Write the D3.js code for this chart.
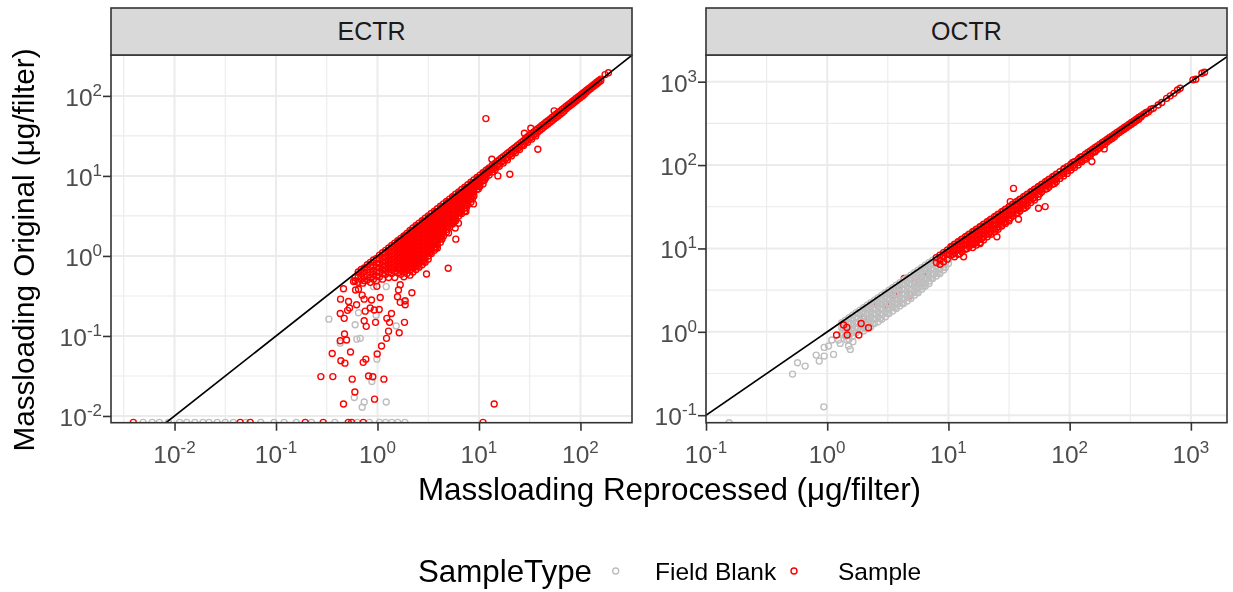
<!DOCTYPE html>
<html>
<head>
<meta charset="utf-8">
<script src="https://cdn.jsdelivr.net/npm/d3@7"></script>
<style>
  html, body { margin: 0; padding: 0; background: #fff; }
  svg { display: block; filter: blur(0.6px); }
  text { font-family: "Liberation Sans", Arial, sans-serif; }
</style>
</head>
<body>
<div id="chart"></div>
<script>
// all values are log10(ug/filter)
// each row is [x, y, y, y...]
const ectrBlank = [
  [-.479,-.79],[-.22,-.86],[-.203,-1.04],[-.17,-1.03],[.184,-.875],[-.367,-1.09],[-.055,-1.57],[-.229,-1.77],
  [-.131,-1.825],[-.151,-1.89],[.086,-1.825],[-.006,-1.29],[-.013,-.74],[-.187,-.71],[.086,-.384],[-.039,-.384],
  [.23,.01],[.214,-.175],[.263,-.57],[-.2,-.32],[-.09,-.28],
  [-2.31,-2.08],[-2.22,-2.08],[-2.15,-2.08],[-2.06,-2.08],[-1.95,-2.08],[-1.88,-2.08],[-1.8,-2.08],[-1.72,-2.08],
  [-1.66,-2.08],[-1.58,-2.08],[-1.5,-2.08],[-1.42,-2.08],[-1.3,-2.08],[-1.15,-2.08],[-1.02,-2.08],[-.92,-2.08],
  [-.8,-2.08],[-.65,-2.08],[-.42,-2.08],[-.2,-2.08],[-.08,-2.08],[.02,-2.08],[.08,-2.08],[.14,-2.08],[.2,-2.08],[.27,-2.08]
];
const ectrSampleSparse = [
  [-.558,-1.508],[-.44,-1.508],[-.249,-1.54],[-.088,-1.5],[-.046,-1.51],[.063,-1.54],[-.335,-1.85],[-.223,-1.7],
  [-.029,-1.79],[-.446,-1.22],[-.266,-1.2],[-.361,-1.31],[-.321,-1.34],[-.141,-1.33],[-.115,-1.29],[-.003,-1.225],
  [.04,-1.125],[.089,-1.03],[.214,-.96],[.109,-.94],[-.367,-1.06],[-.325,-.975],[-.305,-1.05],[-.111,-.88],
  [-.131,-.81],[-.019,-.83],[.092,-.78],[.119,-.83],[.138,-.72],[.266,-.83],[-.328,-.78],[-.367,-.72],
  [-.295,-.68],[-.275,-.65],[-.206,-.61],[-.285,-.57],[-.364,-.54],[-.121,-.69],[-.072,-.65],[-.032,-.675],
  [.017,-.67],[-.059,-.55],[-.131,-.54],[.027,-.52],[-.151,-.49],[-.335,-.41],[-.216,-.425],[-.187,-.417],
  [-.236,-.32],[.197,-.51],[.224,-.58],[.273,-.61],[.273,-.56],[.339,-.46],[.207,-.425],[.224,-.36],
  [-.144,-.34],[-.006,-.38],[.697,-.154],[.483,-.225],[.772,.21],[1.15,-1.85],
  [1.068,1.716],[1.58,1.334],[1.304,1.02],[1.186,1.0],[1.127,1.209],[1.511,1.596],[1.448,1.534],[1.741,1.813],
  [2.276,2.29],[2.243,2.266],[.946,.65],[.871,.554],[.798,.409],[.766,.35],[.7,.288],
  [-2.406,-2.08],[-1.353,-2.08],[-1.254,-2.08],[-.712,-2.08],[-.535,-2.08],[-.288,-2.08],[-.255,-2.08],[-.14,-2.08],[1.04,-2.08]
];
const ectrSampleDense = [
  [-.22,-.27,-.31],[-.19,-.2,-.25,-.33],[-.16,-.17,-.22,-.29],[-.13,-.15,-.2,-.26,-.31],
  [-.1,-.11,-.17,-.24,-.3],[-.07,-.08,-.14,-.2,-.27,-.33],[-.04,-.05,-.12,-.18,-.23,-.29],
  [-.01,-.03,-.09,-.14,-.2,-.25,-.31],[.02,.01,-.04,-.1,-.15,-.2,-.26],
  [.05,.04,-.02,-.07,-.12,-.17,-.22,-.29],[.08,.07,.02,-.03,-.08,-.13,-.18,-.23],
  [.11,.1,.05,0,-.05,-.1,-.15,-.2,-.27],[.14,.13,.08,.03,-.02,-.07,-.12,-.17,-.22],
  [.17,.16,.11,.06,.01,-.04,-.09,-.14,-.19,-.27],[.2,.19,.14,.09,.04,-.01,-.06,-.11,-.16,-.21],
  [.23,.22,.17,.12,.07,.02,-.03,-.08,-.13,-.18,-.23],[.26,.25,.2,.15,.1,.05,0,-.05,-.1,-.15,-.2,-.26],
  [.29,.28,.23,.18,.13,.08,.03,-.02,-.07,-.12,-.17,-.22],[.32,.32,.27,.22,.17,.12,.07,.02,-.03,-.08,-.13,-.18,-.24],
  [.35,.35,.3,.25,.2,.15,.1,.05,0,-.05,-.1,-.15,-.2],[.38,.38,.33,.28,.23,.18,.13,.08,.03,-.02,-.07,-.12,-.17],
  [.41,.41,.36,.31,.26,.21,.16,.11,.06,.01,-.04,-.09,-.14],[.44,.44,.39,.34,.29,.24,.19,.14,.09,.04,-.01,-.06,-.11],
  [.47,.47,.42,.37,.32,.27,.22,.17,.12,.07,.02,-.03,-.08],[.5,.5,.45,.4,.35,.3,.25,.2,.15,.1,.05,0,-.04],
  [.53,.53,.48,.43,.38,.33,.28,.23,.18,.13,.08,.03],[.56,.56,.51,.46,.41,.36,.31,.26,.21,.16,.11,.07],
  [.59,.59,.54,.49,.44,.39,.34,.29,.24,.19,.14,.1],[.62,.62,.57,.52,.47,.42,.37,.32,.27,.22,.17],
  [.65,.65,.6,.55,.5,.45,.4,.35,.3,.25],[.68,.68,.63,.58,.53,.48,.43,.38,.33,.3],
  [.71,.71,.66,.61,.56,.51,.46,.41,.36],[.74,.74,.69,.64,.59,.54,.49,.44,.4],
  [.77,.77,.72,.67,.62,.57,.52,.47,.44],[.8,.8,.75,.7,.65,.6,.55,.5],[.83,.83,.78,.73,.68,.63,.58,.53],
  [.86,.86,.81,.76,.71,.66,.6,.56],[.89,.89,.84,.79,.74,.69,.64],[.92,.92,.87,.82,.77,.72,.67],
  [.95,.95,.9,.85,.8,.75],[.98,.98,.93,.88,.83],[1.01,1.01,.96,.91,.87],[1.04,1.04,.99,.94,.9],
  [1.07,1.07,1.02,.98],[1.1,1.1,1.05,1.01],[1.13,1.13,1.08,1.05],[1.16,1.16,1.11,1.08],[1.2,1.2,1.15,1.12],
  [1.24,1.24,1.19,1.16],[1.28,1.28,1.23,1.2],[1.32,1.32,1.28,1.25],[1.36,1.36,1.32,1.29],[1.4,1.4,1.36,1.33],
  [1.44,1.44,1.4,1.38],[1.48,1.49,1.45,1.42],[1.52,1.53,1.49,1.46],[1.56,1.57,1.53,1.5],[1.6,1.61,1.57],
  [1.64,1.65,1.61],[1.68,1.69,1.65],[1.72,1.73,1.69],[1.76,1.77,1.73],[1.8,1.81,1.77],[1.84,1.85,1.81],
  [1.88,1.89,1.86],[1.92,1.93,1.9],[1.96,1.97,1.94],[2,2.01,1.98],[2.04,2.05,2.02],[2.08,2.09,2.07],
  [2.12,2.13,2.11],[2.16,2.17,2.15],[2.2,2.21,2.19]
];
const ectrSampleBand = [
  [1.09,1.08,1.04],[1.15,1.14,1.1],[1.18,1.18,1.13],[1.22,1.22,1.17],[1.26,1.26,1.21],[1.3,1.3,1.26],[1.34,1.34,1.3],
  [1.38,1.38,1.34],[1.42,1.42,1.38],[1.46,1.47,1.43],[1.5,1.51,1.47],[1.54,1.55,1.51],[1.58,1.59,1.55],[1.62,1.63,1.59],
  [1.66,1.67,1.63],[1.7,1.71,1.67],[1.74,1.75,1.71],[1.78,1.79,1.75],[1.82,1.83,1.79],[1.86,1.87,1.84],[1.9,1.91,1.88],
  [1.94,1.95,1.92],[1.98,1.99,1.96],[2.02,2.03,2.0],[2.06,2.07,2.05],[2.1,2.11,2.09],[2.14,2.15,2.13],[2.18,2.19,2.17]
];
const ectrSampleFill = [
  [.215,.18,.12,.07,.02,-.03,-.09,-.14],[.275,.25,.2,.15,.1,.05,0,-.05,-.11,-.16],
  [.335,.31,.26,.21,.16,.11,.06,.01,-.04,-.09,-.14],[.395,.37,.32,.27,.22,.17,.12,.07,.02,-.03,-.08,-.13],
  [.455,.43,.38,.33,.28,.23,.18,.13,.08,.03,-.02,-.07],[.515,.49,.44,.39,.34,.29,.24,.19,.14,.09,.04],
  [.575,.55,.5,.45,.4,.35,.3,.25,.2,.15,.1],[.635,.61,.56,.51,.46,.41,.36,.31,.26,.21],
  [.695,.67,.62,.57,.52,.47,.42,.37],[.755,.73,.68,.63,.58,.53,.48,.43],[.815,.79,.74,.69,.64,.59,.54],
  [.875,.85,.8,.75,.7,.65,.6],[.935,.91,.86,.81,.76,.71],[.995,.97,.92,.87,.84],[1.055,1.03,.98,.95]
];

const octrSampleUnder = [
  [.635,.641],[.588,.501],[.41,.36],[.3,.16],[.685,.44],[.48,.33],[.55,.44],[.72,.6],[.78,.66],[.83,.7]
];
const octrBlank = [
  [-.809,-1.09],[-.028,-.9],[-.286,-.507],[-.245,-.371],[-.182,-.411],[-.091,-.279],[-.066,-.351],[-.025,-.291],
  [-.025,-.187],[.052,-.271],[.011,-.171],[.038,-.099],[.107,-.139],[.176,-.171],[.19,-.211],[.212,-.119],[.162,-.099],[.093,-.099],
  [.12,.11,.05,-.02],[.15,.14,.08,.02,-.05],[.18,.17,.11,.05,-.02,-.09],[.21,.2,.14,.08,.02,-.05],
  [.24,.23,.17,.11,.05,-.01],[.27,.26,.2,.14,.08,.02],[.3,.29,.24,.18,.12,.06,.01],[.33,.32,.27,.21,.15,.09,.04],
  [.36,.35,.3,.24,.18,.12,.06],[.39,.38,.33,.27,.21,.15,.1],[.42,.41,.36,.3,.24,.18,.12],[.45,.44,.39,.33,.27,.21,.15],
  [.48,.47,.42,.36,.3,.24,.18],[.51,.5,.45,.39,.33,.27,.22],[.54,.53,.48,.42,.36,.3,.25],[.57,.56,.51,.45,.39,.33,.28],
  [.6,.59,.54,.48,.42,.36,.31],[.63,.62,.57,.51,.45,.39,.34],[.66,.65,.6,.54,.48,.42,.37],[.69,.68,.63,.57,.51,.45,.4],
  [.72,.71,.66,.6,.54,.49,.44],[.75,.74,.69,.63,.57,.52,.47],[.78,.77,.72,.66,.6,.55,.51],[.81,.8,.75,.69,.63,.58,.55],
  [.84,.83,.78,.72,.66,.61,.58],[.87,.86,.81,.75,.69,.64],[.9,.89,.84,.78,.72,.67],[.93,.92,.87,.81,.75,.7],
  [.96,.95,.9,.84,.78,.74],[1,.99,.93,.87,.82],
  [.135,.1,.04,-.03],[.195,.16,.1,.04,-.02],[.255,.22,.16,.1,.04],[.315,.28,.22,.16,.1,.04],[.375,.34,.28,.22,.16,.1],
  [.435,.4,.34,.28,.22,.16],[.495,.46,.4,.34,.28,.22],[.555,.52,.46,.4,.34,.29],[.615,.58,.52,.46,.4,.34],
  [.675,.64,.58,.52,.46,.41],[.735,.7,.64,.58,.52,.47],[.795,.76,.7,.64,.58,.54],[.855,.82,.76,.7,.64],
  [.915,.88,.82,.76,.7],[.975,.94,.88,.82,.77]
];
const octrSample = [
  [.077,-.039],[.165,-.039],[.261,-.039],[.341,.049],[.135,.081],[.162,.053],[.28,.1],
  [1.537,1.72],[1.51,1.562],[1.743,1.482],[1.798,1.502],[1.578,1.35],[1.4,1.14],[1.262,1.06],[1.125,.9],
  [2.183,2.042],[2.285,2.194],
  [.9,.89,.83],[.93,.92,.86,.81],[.96,.95,.9,.84],[.99,.98,.93,.87],[1.02,1.02,.97,.92],[1.05,1.05,1,.95,.9],
  [1.08,1.08,1.03,.98,.93],[1.11,1.11,1.06,1.01,.96],[1.14,1.14,1.09,1.04,.99],[1.17,1.17,1.12,1.07,1.02],
  [1.2,1.2,1.15,1.1,1.05,1.01],[1.23,1.23,1.18,1.13,1.08,1.04],[1.26,1.26,1.21,1.16,1.11,1.07],[1.29,1.29,1.24,1.19,1.14,1.1],
  [1.32,1.32,1.27,1.22,1.17,1.14],[1.35,1.35,1.3,1.25,1.2,1.17],[1.38,1.38,1.33,1.28,1.23,1.2],[1.41,1.41,1.36,1.31,1.26,1.23],
  [1.44,1.44,1.39,1.34,1.29,1.27],[1.47,1.47,1.42,1.37,1.32,1.3],[1.5,1.5,1.45,1.4,1.35,1.33],[1.53,1.53,1.48,1.43,1.39],
  [1.56,1.56,1.51,1.46,1.42],[1.59,1.59,1.54,1.49,1.45],[1.62,1.62,1.57,1.52,1.48],[1.65,1.65,1.6,1.55,1.51],
  [1.68,1.68,1.63,1.58,1.55],[1.71,1.71,1.66,1.61,1.58],[1.74,1.74,1.69,1.65,1.62],[1.77,1.77,1.72,1.68],[1.8,1.8,1.75,1.71],
  [1.83,1.83,1.78,1.74],[1.86,1.86,1.81,1.77],[1.89,1.89,1.84,1.8],[1.92,1.92,1.87,1.84],[1.95,1.95,1.9,1.87],[1.98,1.98,1.93,1.9],
  [2.01,2.01,1.97,1.94],[2.04,2.04,2,1.97],[2.07,2.07,2.03,2],[2.1,2.1,2.06,2.04],[2.13,2.13,2.09,2.07],[2.17,2.17,2.13,2.11],
  [2.21,2.21,2.17,2.16],[2.25,2.25,2.21],[2.29,2.29,2.25],[2.33,2.33,2.3],[2.37,2.37,2.34],[2.41,2.41,2.39],[2.45,2.45,2.43],
  [2.49,2.49,2.47],[2.53,2.53,2.51],[2.57,2.57,2.55],[2.61,2.61],[2.65,2.64],[2.69,2.68],[2.73,2.72],[2.76,2.75],[2.8,2.8],
  [2.83,2.83],[2.86,2.86],[2.89,2.9],[2.912,2.922],[3.017,3.022],[3.04,3.03],[3.091,3.102],[3.113,3.114]
];
const octrSampleBand = [
  [1.955,1.96,1.92],[2.025,2.03,1.99],[2.085,2.09,2.05],[2.15,2.15,2.11],[2.19,2.19,2.15],[2.23,2.23,2.19],[2.27,2.27,2.24],
  [2.31,2.31,2.28],[2.35,2.35,2.32],[2.39,2.39,2.37],[2.43,2.43,2.41],[2.47,2.47,2.45],[2.51,2.51,2.49],[2.55,2.55,2.53],
  [2.59,2.59,2.58],[2.63,2.63,2.62],[2.67,2.67],
  [1.035,1.03,.98,.93],[1.095,1.09,1.04,.99,.94],[1.155,1.15,1.1,1.05,1],[1.215,1.21,1.16,1.11,1.06],[1.275,1.27,1.22,1.17,1.12],
  [1.335,1.33,1.28,1.23,1.18],[1.395,1.39,1.34,1.29,1.24],[1.455,1.45,1.4,1.35,1.31],[1.515,1.51,1.46,1.41,1.37],
  [1.575,1.57,1.52,1.47,1.43],[1.635,1.63,1.58,1.53,1.49],[1.695,1.69,1.64,1.6],[1.755,1.75,1.7,1.66],[1.815,1.81,1.76,1.72],
  [1.875,1.87,1.82,1.78]
];

const ectrXTicks = [-2, -1, 0, 1, 2];
const ectrYTicks = [-2, -1, 0, 1, 2];
const ectrXMinor = [-2.5, -1.5, -0.5, 0.5, 1.5];
const ectrYMinor = [-1.5, -0.5, 0.5, 1.5];
const octrXTicks = [-1, 0, 1, 2, 3];
const octrYTicks = [-1, 0, 1, 2, 3];
const octrXMinor = [-0.5, 0.5, 1.5, 2.5];
const octrYMinor = [-0.5, 0.5, 1.5, 2.5];
const legendItems = ["Field Blank", "Sample"];

const blankColor = "#bebebe";
const sampleColor = "#ff0000";
const panelTop = 55, panelBottom = 422.7, stripTop = 8;

const svg = d3.select("#chart").append("svg")
  .attr("width", 1233)
  .attr("height", 592);

function rowsToPoints(rows) {
  return rows.flatMap(r => r.slice(1).map(y => [r[0], y]));
}

function drawPanel(p) {
  const x = d3.scaleLog().domain(p.xDomain.map(d => 10 ** d)).range([p.left, p.right]);
  const y = d3.scaleLog().domain(p.yDomain.map(d => 10 ** d)).range([panelBottom, panelTop]);
  const g = svg.append("g");

  // 网格 grid, minor first
  g.selectAll(".minor-x").data(p.xMinor).join("line")
    .attr("x1", d => x(10 ** d)).attr("x2", d => x(10 ** d))
    .attr("y1", panelTop).attr("y2", panelBottom)
    .attr("stroke", "#ebebeb").attr("stroke-width", 1.1);
  g.selectAll(".minor-y").data(p.yMinor).join("line")
    .attr("y1", d => y(10 ** d)).attr("y2", d => y(10 ** d))
    .attr("x1", p.left).attr("x2", p.right)
    .attr("stroke", "#ebebeb").attr("stroke-width", 1.1);
  g.selectAll(".major-x").data(p.xTicks).join("line")
    .attr("x1", d => x(10 ** d)).attr("x2", d => x(10 ** d))
    .attr("y1", panelTop).attr("y2", panelBottom)
    .attr("stroke", "#ebebeb").attr("stroke-width", 2);
  g.selectAll(".major-y").data(p.yTicks).join("line")
    .attr("y1", d => y(10 ** d)).attr("y2", d => y(10 ** d))
    .attr("x1", p.left).attr("x2", p.right)
    .attr("stroke", "#ebebeb").attr("stroke-width", 2);

  const clipId = "clip-" + p.name;
  svg.append("clipPath").attr("id", clipId).append("rect")
    .attr("x", p.left).attr("y", panelTop)
    .attr("width", p.right - p.left).attr("height", panelBottom - panelTop);
  const plot = g.append("g").attr("clip-path", `url(#${clipId})`);

  p.layers.forEach(layer => {
    plot.append("g").selectAll("circle")
      .data(rowsToPoints(layer.rows))
      .join("circle")
      .attr("cx", d => x(10 ** d[0]))
      .attr("cy", d => y(10 ** d[1]))
      .attr("r", 3)
      .attr("fill", "none")
      .attr("stroke", layer.color)
      .attr("stroke-width", 1.4);
  });

  // y = x 参考线
  const lo = Math.min(p.xDomain[0], p.yDomain[0]), hi = Math.max(p.xDomain[1], p.yDomain[1]);
  plot.append("line")
    .attr("x1", x(10 ** lo)).attr("y1", y(10 ** lo))
    .attr("x2", x(10 ** hi)).attr("y2", y(10 ** hi))
    .attr("stroke", "#000").attr("stroke-width", 1.7);

  // panel border and strip
  g.append("rect")
    .attr("x", p.left).attr("y", panelTop)
    .attr("width", p.right - p.left).attr("height", panelBottom - panelTop)
    .attr("fill", "none").attr("stroke", "#333").attr("stroke-width", 1.6);
  g.append("rect")
    .attr("x", p.left).attr("y", stripTop)
    .attr("width", p.right - p.left).attr("height", panelTop - stripTop)
    .attr("fill", "#d9d9d9").attr("stroke", "#333").attr("stroke-width", 1.6);
  g.append("text")
    .attr("x", (p.left + p.right) / 2).attr("y", 40)
    .attr("text-anchor", "middle")
    .attr("fill", "#1a1a1a")
    .style("font-size", "25px")
    .text(p.name);

  // axes
  const xAxis = g.append("g")
    .attr("transform", `translate(0,${panelBottom})`)
    .call(d3.axisBottom(x).tickValues(p.xTicks.map(d => 10 ** d)).tickSize(8).tickFormat(""));
  const yAxis = g.append("g")
    .attr("transform", `translate(${p.left},0)`)
    .call(d3.axisLeft(y).tickValues(p.yTicks.map(d => 10 ** d)).tickSize(8).tickFormat(""));
  [xAxis, yAxis].forEach(a => {
    a.select(".domain").remove();
    a.selectAll(".tick line").attr("stroke", "#333").attr("stroke-width", 1.6);
  });

  const powerLabel = (sel, e) => {
    sel.append("tspan").style("font-size", "24.5px").text("10");
    sel.append("tspan").style("font-size", "17px").attr("dy", -10).text(e);
  };
  p.xTicks.forEach(t => {
    g.append("text")
      .attr("x", x(10 ** t))
      .attr("y", 463)
      .attr("text-anchor", "middle")
      .attr("fill", "#4d4d4d")
      .call(powerLabel, t);
  });
  p.yTicks.forEach(t => {
    g.append("text")
      .attr("x", p.left - 9)
      .attr("y", y(10 ** t) + 10)
      .attr("text-anchor", "end")
      .attr("fill", "#4d4d4d")
      .call(powerLabel, t);
  });
}

drawPanel({
  name: "ECTR", left: 111, right: 632,
  xDomain: [-2.626, 2.508], yDomain: [-2.084, 2.511],
  xTicks: ectrXTicks, yTicks: ectrYTicks, xMinor: ectrXMinor, yMinor: ectrYMinor,
  layers: [
    { rows: ectrBlank, color: blankColor },
    { rows: ectrSampleSparse, color: sampleColor },
    { rows: ectrSampleDense, color: sampleColor },
    { rows: ectrSampleBand, color: sampleColor },
    { rows: ectrSampleFill, color: sampleColor }
  ]
});

drawPanel({
  name: "OCTR", left: 706, right: 1227,
  xDomain: [-1, 3.298], yDomain: [-1.09, 3.32],
  xTicks: octrXTicks, yTicks: octrYTicks, xMinor: octrXMinor, yMinor: octrYMinor,
  layers: [
    { rows: octrSampleUnder, color: sampleColor },
    { rows: octrBlank, color: blankColor },
    { rows: octrSample, color: sampleColor },
    { rows: octrSampleBand, color: sampleColor }
  ]
});

// axis titles
svg.append("text")
  .attr("x", 669.5).attr("y", 500)
  .attr("text-anchor", "middle")
  .attr("fill", "#000")
  .style("font-size", "31.4px")
  .text("Massloading Reprocessed (μg/filter)");
svg.append("text")
  .attr("transform", "translate(34,250) rotate(-90)")
  .attr("text-anchor", "middle")
  .attr("fill", "#000")
  .style("font-size", "29.7px")
  .text("Massloading Original (μg/filter)");

// legend
svg.append("text")
  .attr("x", 418).attr("y", 582)
  .attr("fill", "#000")
  .style("font-size", "31.3px")
  .text("SampleType");
const legendX = d3.scalePoint().domain(legendItems).range([615.7, 794]);
const legendLabelX = d3.scalePoint().domain(legendItems).range([655, 838]);
svg.selectAll(".legend-mark").data(legendItems).join("circle")
  .attr("cx", d => legendX(d))
  .attr("cy", 571)
  .attr("r", 3)
  .attr("fill", "none")
  .attr("stroke", (d, i) => i === 0 ? blankColor : sampleColor)
  .attr("stroke-width", 1.4);
svg.selectAll(".legend-label").data(legendItems).join("text")
  .attr("x", d => legendLabelX(d))
  .attr("y", 580)
  .attr("fill", "#000")
  .style("font-size", "24.5px")
  .text(d => d);
</script>
</body>
</html>
